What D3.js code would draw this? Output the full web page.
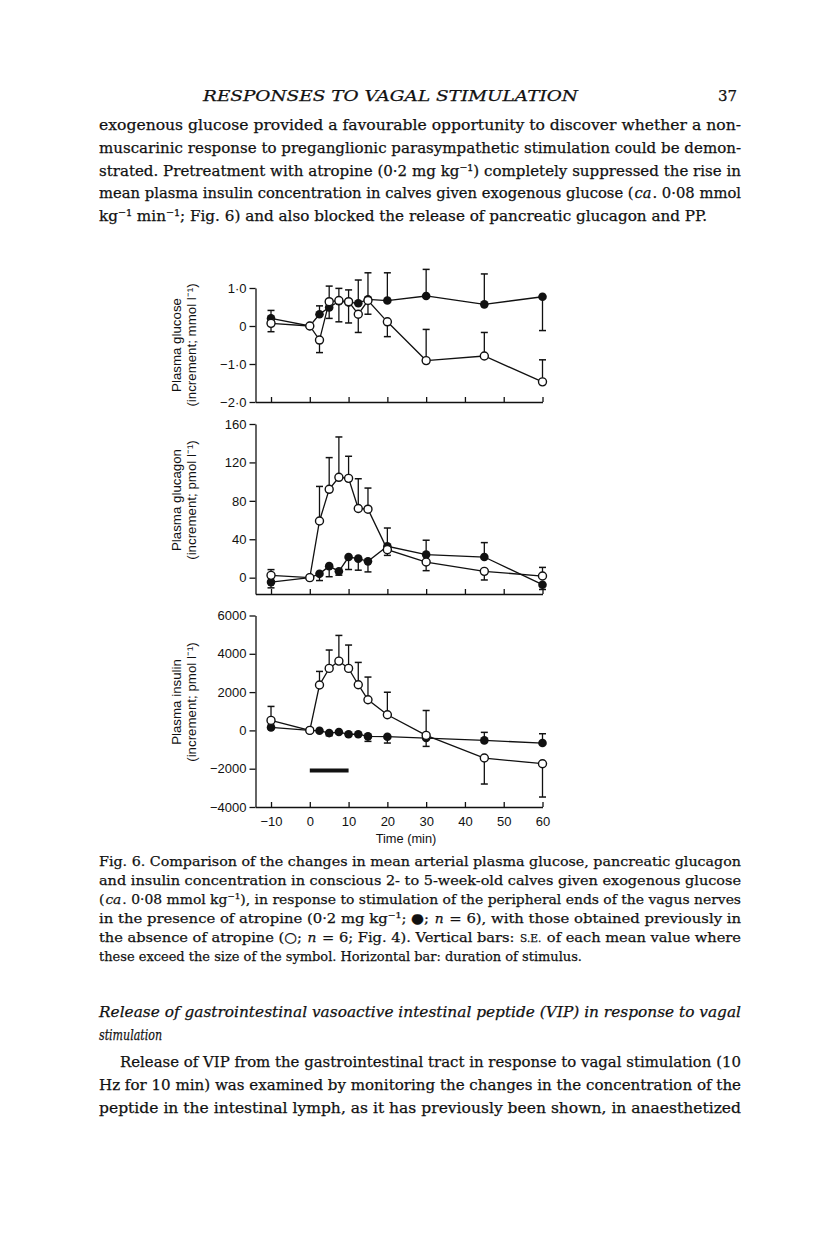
<!DOCTYPE html>
<html>
<head>
<meta charset="utf-8">
<script src="https://cdn.jsdelivr.net/npm/d3@7"></script>
<style>
  body { margin: 0; background: #fff; }
  svg { display: block; }
</style>
</head>
<body>
<div id="canvas"></div>
<script>
// sampling times (min)
const times = [-10, 0, 2.5, 5, 7.5, 10, 12.5, 15, 20, 30, 45, 60];

// glucose increment (mmol l-1); "Atropine" = closed symbols, "Control" = open symbols
// SE arrays are signed: + draws the bar upward, - draws it downward, 0 = no bar
const glucoseAtropine   = [0.20, 0.00, 0.31, 0.49, 0.65, 0.62, 0.60, 0.70, 0.67, 0.79, 0.57, 0.77];
const glucoseAtropineSE = [0.21, 0, 0.22, -0.29, -0.54, -0.54, 0.61, 0.70, 0.73, 0.70, 0.80, -0.89];
const glucoseControl    = [0.07, 0.00, -0.37, 0.64, 0.67, 0.64, 0.31, 0.67, 0.11, -0.91, -0.79, -1.47];
const glucoseControlSE  = [-0.22, 0, -0.33, 0.41, 0.32, 0.31, -0.48, -0.36, -0.39, 0.82, 0.62, 0.58];

// glucagon increment (pmol l-1)
const glucagonAtropine   = [-4.6, 0, 4, 12, 6.6, 21.5, 19.8, 17, 32.7, 24, 21.5, -7.3];
const glucagonAtropineSE = [-6, 0, -7, -11, -4, -13, -12, -11, 19, 15, 15, -5];
const glucagonControl    = [2.4, 0, 59, 92, 104.5, 103.4, 72, 71.3, 29.2, 16.3, 6.6, 1.7];
const glucagonControlSE  = [6, 0, 36, 33, 42, 23, 31, 22, -6, -9, -9, 9];

// insulin increment (pmol l-1)
const insulinAtropine   = [157, 0, -17, -140, -87, -200, -200, -313, -330, -400, -522, -661];
const insulinAtropineSE = [0, 0, 0, -140, 0, -100, 0, -260, -330, -435, 420, 487];
const insulinControl    = [522, 0, 2370, 3237, 3620, 3237, 2385, 1600, 818, -261, -1443, -1739];
const insulinControlSE  = [730, 0, 710, 960, 1340, 1220, 1165, 1185, 1175, 1300, -1357, -1740];

// axis ticks
const xTicks = [-10, 0, 10, 20, 30, 40, 50, 60];
const glucoseTicks = [-2, -1, 0, 1];
const glucagonTicks = [0, 40, 80, 120, 160];
const insulinTicks = [-4000, -2000, 0, 2000, 4000, 6000];

// stimulus duration (min) and the level it is drawn at in the insulin panel
const stimulus = [0, 10];
const stimulusLevel = -2100;

// page text; a part flagged "i" flips italic, "sc" is small caps
const headerText = "RESPONSES TO VAGAL STIMULATION";
const pageNumber = "37";
const bodyLines = [
    [["exogenous glucose provided a favourable opportunity to discover whether a non-"]],
    [["muscarinic response to preganglionic parasympathetic stimulation could be demon-"]],
    [["strated. Pretreatment with atropine (0·2 mg kg⁻¹) completely suppressed the rise in"]],
    [["mean plasma insulin concentration in calves given exogenous glucose ("], ["ca", "i"], [". 0·08 mmol"]],
    [["kg⁻¹ min⁻¹; Fig. 6) and also blocked the release of pancreatic glucagon and PP."]]
];
const captionLines = [
    [["Fig. 6. Comparison of the changes in mean arterial plasma glucose, pancreatic glucagon"]],
    [["and insulin concentration in conscious 2- to 5-week-old calves given exogenous glucose"]],
    [["("], ["ca", "i"], [". 0·08 mmol kg⁻¹), in response to stimulation of the peripheral ends of the vagus nerves"]],
    [["in the presence of atropine (0·2 mg kg⁻¹; ●; "], ["n", "i"], [" = 6), with those obtained previously in"]],
    [["the absence of atropine (○; "], ["n", "i"], [" = 6; Fig. 4). Vertical bars: "], ["S.E.", "sc"], [" of each mean value where"]],
    [["these exceed the size of the symbol. Horizontal bar: duration of stimulus."]]
];
const sectionLines = [
    [["Release of gastrointestinal vasoactive intestinal peptide (VIP) in response to vagal"]],
    [["stimulation"]]
];
const vipLines = [
    [["Release of VIP from the gastrointestinal tract in response to vagal stimulation (10"]],
    [["Hz for 10 min) was examined by monitoring the changes in the concentration of the"]],
    [["peptide in the intestinal lymph, as it has previously been shown, in anaesthetized"]]
];

const W = 816, H = 1243;
const serif = "'DejaVu Serif', 'Liberation Serif', serif";
const sans = "'Liberation Sans', Arial, Helvetica, sans-serif";
const ink = "#111";

const svg = d3.select("#canvas")
    .append("svg")
    .attr("width", W)
    .attr("height", H);

// ---------- text blocks ----------
// each part is its own <text>; short parts keep their natural width,
// long parts are fitted so the whole line fills the target width.
// Lines with several parts are only ever stretched, never squeezed,
// so neighbouring parts cannot run into each other.
function addLine(parts, x, y, size, width, italic) {
    const gap = 1;
    const nodes = parts.map(function(p) {
        const it = p[1] === "i" ? !italic : italic;
        return svg.append("text")
            .attr("y", y)
            .attr("font-family", serif)
            .attr("fill", ink)
            .attr("stroke", ink)
            .attr("stroke-width", 0.25)
            .style("white-space", "pre")
            .style("font-style", it ? "italic" : "normal")
            .text(p[0]);
    });
    const isShort = parts.map(p => p[0].length < 6);
    let widths, k;
    function measure(s) {
        nodes.forEach((n, i) => n.attr("font-size", parts[i][1] === "sc" ? s * 0.76 : s));
        widths = nodes.map(n => n.node().getComputedTextLength());
        const fixed = d3.sum(widths.filter((w, i) => isShort[i]));
        const stretch = d3.sum(widths.filter((w, i) => !isShort[i]));
        k = width ? (width - fixed - gap * (parts.length - 1)) / stretch : 1;
    }
    measure(size);
    if (parts.length > 1 && k < 1) measure(size * k * 0.99);
    let cx = x;
    nodes.forEach(function(n, i) {
        const w = isShort[i] ? widths[i] : widths[i] * k;
        n.attr("x", cx);
        if (width && !isShort[i]) n.attr("textLength", w).attr("lengthAdjust", "spacingAndGlyphs");
        cx += w + gap;
    });
}

addLine([[headerText]], 203, 101, 15, 375, true);
svg.append("text")
    .attr("x", 737).attr("y", 101)
    .attr("text-anchor", "end")
    .attr("font-family", serif)
    .attr("font-size", 15)
    .attr("fill", ink)
    .attr("stroke", ink)
    .attr("stroke-width", 0.25)
    .text(pageNumber);

const bodyWidths = [642, 642, 642, 642, 608];
bodyLines.forEach(function(l, i) {
    addLine(l, 99, 130 + i * 22.8, 15.5, bodyWidths[i], false);
});

const captionWidths = [642, 642, 642, 642, 642, 483];
captionLines.forEach(function(l, i) {
    addLine(l, 99, 866 + i * 19, 13.8, captionWidths[i], false);
});

addLine(sectionLines[0], 99, 1017, 15.5, 642, true);
addLine(sectionLines[1], 99, 1040, 15.5, 63, true);

const vipX = [120, 99, 99];
vipLines.forEach(function(l, i) {
    addLine(l, vipX[i], 1067 + i * 23, 15.5, 741 - vipX[i], false);
});

// ---------- chart panels ----------
const x = d3.scaleLinear().domain([-14, 60]).range([255.5, 542.5]);

const dotFmt = d => d === 0 ? "0" : (d < 0 ? "−" : "") + Math.abs(d).toFixed(1).replace(".", "·");

const panels = [
    {
        domain: [-2, 1], range: [402, 288], ticks: glucoseTicks, fmt: dotFmt,
        title: ["Plasma glucose", "(increment; mmol l⁻¹)"], titleY: 345,
        closed: glucoseAtropine, closedSE: glucoseAtropineSE,
        open: glucoseControl, openSE: glucoseControlSE
    },
    {
        domain: [-17, 160], range: [594, 424], ticks: glucagonTicks, fmt: d3.format("d"),
        title: ["Plasma glucagon", "(increment; pmol l⁻¹)"], titleY: 500,
        closed: glucagonAtropine, closedSE: glucagonAtropineSE,
        open: glucagonControl, openSE: glucagonControlSE
    },
    {
        domain: [-4000, 6000], range: [807, 615.5], ticks: insulinTicks, fmt: d3.format("d"),
        title: ["Plasma insulin", "(increment; pmol l⁻¹)"], titleY: 702,
        closed: insulinAtropine, closedSE: insulinAtropineSE,
        open: insulinControl, openSE: insulinControlSE,
        last: true
    }
];

panels.forEach(function(p) {
    const y = d3.scaleLinear().domain(p.domain).range(p.range);
    const g = svg.append("g");

    // y axis, ticks pointing out
    const ya = g.append("g")
        .attr("transform", "translate(" + x.range()[0] + ",0)")
        .call(d3.axisLeft(y).tickValues(p.ticks).tickFormat(p.fmt)
            .tickSize(6).tickSizeOuter(0).tickPadding(3));

    // x axis, ticks pointing in
    const xa = g.append("g")
        .attr("transform", "translate(0," + p.range[0] + ")")
        .call(d3.axisBottom(x).tickValues(xTicks)
            .tickFormat(p.last ? d3.format("d") : "")
            .tickSizeInner(-5).tickSizeOuter(0).tickPadding(10));

    [ya, xa].forEach(function(a) {
        a.attr("font-family", sans).attr("font-size", 13);
        a.selectAll("path, line").attr("stroke", ink).attr("stroke-width", 1.3);
        a.selectAll("text").attr("fill", ink);
    });

    // axis title, two rotated lines
    p.title.forEach(function(t, i) {
        g.append("text")
            .attr("transform", "translate(" + (181 + i * 14.5) + "," + p.titleY + ") rotate(-90)")
            .attr("text-anchor", "middle")
            .attr("font-family", sans)
            .attr("font-size", 13.3)
            .attr("fill", ink)
            .text(t);
    });

    const line = d3.line()
        .x((d, i) => x(times[i]))
        .y(d => y(d));

    [p.closed, p.open].forEach(function(vals) {
        g.append("path")
            .attr("d", line(vals))
            .attr("fill", "none")
            .attr("stroke", ink)
            .attr("stroke-width", 1.3);
    });

    // one-sided error bars with caps
    [[p.closed, p.closedSE], [p.open, p.openSE]].forEach(function(s) {
        s[0].forEach(function(v, i) {
            const se = s[1][i];
            if (!se) return;
            const cx = x(times[i]);
            g.append("line")
                .attr("x1", cx).attr("x2", cx)
                .attr("y1", y(v)).attr("y2", y(v + se))
                .attr("stroke", ink).attr("stroke-width", 1.3);
            g.append("line")
                .attr("x1", cx - 3.5).attr("x2", cx + 3.5)
                .attr("y1", y(v + se)).attr("y2", y(v + se))
                .attr("stroke", ink).attr("stroke-width", 1.5);
        });
    });

    // markers: closed first, open on top
    g.selectAll(null)
        .data(p.closed)
        .enter()
        .append("circle")
        .attr("cx", (d, i) => x(times[i]))
        .attr("cy", d => y(d))
        .attr("r", 4.3)
        .attr("fill", ink);

    g.selectAll(null)
        .data(p.open)
        .enter()
        .append("circle")
        .attr("cx", (d, i) => x(times[i]))
        .attr("cy", d => y(d))
        .attr("r", 4)
        .attr("fill", "#fff")
        .attr("stroke", ink)
        .attr("stroke-width", 1.4);

    if (p.last) {
        // stimulus duration bar
        g.append("line")
            .attr("x1", x(stimulus[0])).attr("x2", x(stimulus[1]))
            .attr("y1", y(stimulusLevel)).attr("y2", y(stimulusLevel))
            .attr("stroke", ink).attr("stroke-width", 4);

        g.append("text")
            .attr("x", 406)
            .attr("y", 843)
            .attr("text-anchor", "middle")
            .attr("font-family", sans)
            .attr("font-size", 12.8)
            .attr("fill", ink)
            .text("Time (min)");
    }
});
</script>
</body>
</html>
